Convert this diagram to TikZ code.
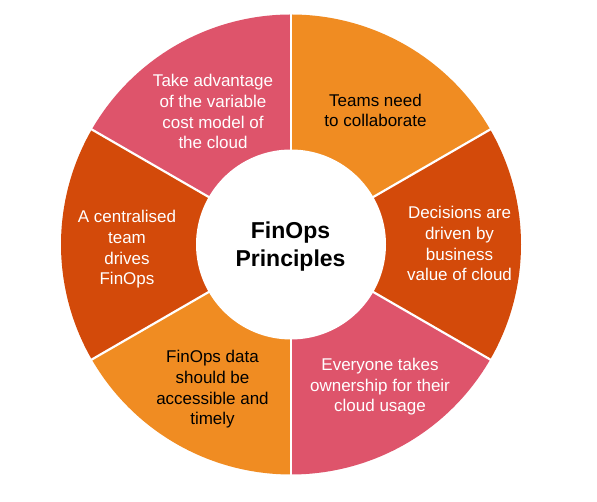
\documentclass[tikz,border=0pt]{standalone}
\usepackage{fontspec}
\setmainfont{Liberation Sans}
\definecolor{segorange}{HTML}{F08C22}
\definecolor{segdark}{HTML}{D34A0A}
\definecolor{segpink}{HTML}{DE546B}
\begin{document}
\begin{tikzpicture}[x=1pt,y=1pt,
  lbl/.style={align=center,anchor=base,font=\fontsize{17}{20.8}\selectfont,inner sep=0pt},
  gap/.style={draw=white,line width=2.2pt}]
\useasboundingbox (0,0) rectangle (597,502);
\fill[white] (0,0) rectangle (597,502);
\coordinate (C) at (291,257.5);
\def\R{230}
\fill[segorange] (C) -- +(30:\R) arc[start angle=30,end angle=90,radius=\R] -- cycle;
\fill[segdark] (C) -- +(-30:\R) arc[start angle=-30,end angle=30,radius=\R] -- cycle;
\fill[segpink] (C) -- +(-90:\R) arc[start angle=-90,end angle=-30,radius=\R] -- cycle;
\fill[segorange] (C) -- +(-150:\R) arc[start angle=-150,end angle=-90,radius=\R] -- cycle;
\fill[segdark] (C) -- +(150:\R) arc[start angle=150,end angle=210,radius=\R] -- cycle;
\fill[segpink] (C) -- +(90:\R) arc[start angle=90,end angle=150,radius=\R] -- cycle;
\foreach \a in {90,30,-30,-90,-150,150}
  \draw[gap] (C) -- +(\a:\R+3);
\node[circle,fill=white,minimum size=190pt,inner sep=0pt] (hub) at (C) {};
\node[lbl,font=\fontsize{23}{28}\bfseries\selectfont,text=black] (title) at (290.5,235) {FinOps\\Principles};
\node[lbl,text=white] (p6) at (213,353) {Take advantage\\of the variable\\cost model of\\the cloud};
\node[lbl,text=black] (p1) at (375.5,375) {Teams need\\to collaborate};
\node[lbl,text=white] (p2) at (459.5,221) {Decisions are\\driven by\\business\\value of cloud};
\node[lbl,text=white] (p3) at (380,90) {Everyone takes\\ownership for their\\cloud usage};
\node[lbl,text=black] (p4) at (212.5,77) {FinOps data\\should be\\accessible and\\timely};
\node[lbl,text=white] (p5) at (127,217) {A centralised\\team\\drives\\FinOps};
\end{tikzpicture}
\end{document}
